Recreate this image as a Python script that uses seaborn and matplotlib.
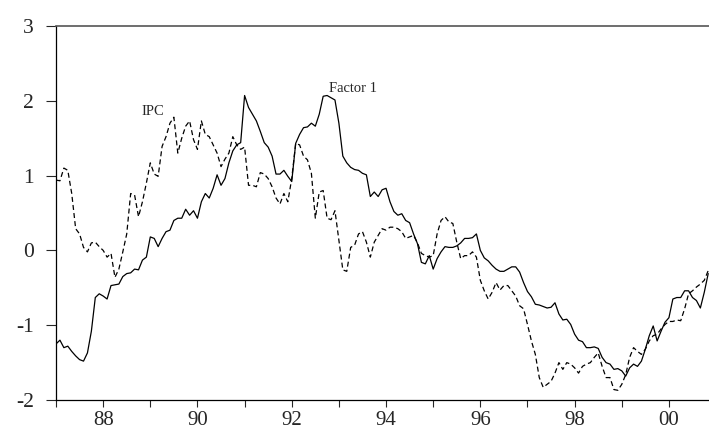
import numpy as np
import pandas as pd
import matplotlib
matplotlib.use("Agg")
import matplotlib.pyplot as plt
import seaborn as sns

# monthly observations, 1987:01 onwards
factor1 = [
    -1.25, -1.20, -1.30, -1.28, -1.35, -1.41, -1.46, -1.48, -1.37, -1.08, -0.63, -0.58,
    -0.61, -0.65, -0.47, -0.46, -0.45, -0.35, -0.31, -0.30, -0.25, -0.26, -0.13, -0.09,
    0.18, 0.16, 0.05, 0.16, 0.25, 0.27, 0.40, 0.43, 0.43, 0.55, 0.47, 0.53,
    0.43, 0.65, 0.76, 0.70, 0.83, 1.01, 0.87, 0.96, 1.17, 1.33, 1.41, 1.44,
    2.07, 1.91, 1.82, 1.73, 1.59, 1.44, 1.38, 1.26, 1.02, 1.02, 1.07, 0.99,
    0.92, 1.43, 1.55, 1.64, 1.65, 1.70, 1.66, 1.82, 2.06, 2.07, 2.04, 2.01,
    1.70, 1.26, 1.17, 1.11, 1.08, 1.07, 1.03, 1.01, 0.72, 0.78, 0.72, 0.81,
    0.83, 0.65, 0.52, 0.47, 0.49, 0.40, 0.37, 0.22, 0.09, -0.16, -0.18, -0.07,
    -0.25, -0.11, -0.02, 0.05, 0.04, 0.04, 0.06, 0.10, 0.16, 0.16, 0.17, 0.22,
    0.00, -0.10, -0.14, -0.20, -0.25, -0.28, -0.28, -0.25, -0.22, -0.22, -0.29, -0.43,
    -0.55, -0.62, -0.72, -0.73, -0.75, -0.77, -0.76, -0.70, -0.85, -0.93, -0.92, -0.99,
    -1.12, -1.20, -1.22, -1.30, -1.30, -1.29, -1.31, -1.43, -1.50, -1.52, -1.59, -1.58,
    -1.61, -1.68, -1.57, -1.52, -1.55, -1.48, -1.32, -1.14, -1.01, -1.21, -1.08, -0.96,
    -0.90, -0.65, -0.63, -0.63, -0.54, -0.54, -0.63, -0.67, -0.77, -0.56, -0.31,
]

ipc = [
    0.94, 0.93, 1.10, 1.07, 0.76, 0.29, 0.22, 0.04, -0.02, 0.10, 0.11, 0.05,
    0.00, -0.09, -0.04, -0.36, -0.25, -0.02, 0.22, 0.76, 0.74, 0.45, 0.65, 0.90,
    1.17, 1.02, 0.99, 1.39, 1.52, 1.70, 1.78, 1.30, 1.50, 1.66, 1.73, 1.48,
    1.35, 1.73, 1.55, 1.52, 1.41, 1.30, 1.12, 1.22, 1.30, 1.52, 1.41, 1.35,
    1.38, 0.87, 0.87, 0.85, 1.04, 1.02, 0.96, 0.85, 0.70, 0.62, 0.76, 0.65,
    0.96, 1.43, 1.41, 1.26, 1.21, 1.03, 0.43, 0.78, 0.80, 0.43, 0.41, 0.53,
    0.13, -0.26, -0.28, 0.04, 0.07, 0.22, 0.25, 0.11, -0.09, 0.11, 0.20, 0.29,
    0.27, 0.31, 0.31, 0.29, 0.25, 0.16, 0.18, 0.20, 0.10, -0.04, -0.07, -0.09,
    -0.07, 0.22, 0.40, 0.45, 0.38, 0.36, 0.11, -0.11, -0.07, -0.07, -0.02, -0.09,
    -0.40, -0.54, -0.65, -0.56, -0.43, -0.53, -0.47, -0.47, -0.54, -0.61, -0.74, -0.78,
    -0.99, -1.21, -1.39, -1.70, -1.83, -1.79, -1.75, -1.64, -1.50, -1.59, -1.50, -1.52,
    -1.57, -1.64, -1.55, -1.52, -1.50, -1.43, -1.37, -1.55, -1.70, -1.70, -1.86, -1.87,
    -1.79, -1.66, -1.43, -1.30, -1.35, -1.39, -1.32, -1.21, -1.14, -1.12, -1.05, -0.99,
    -0.95, -0.95, -0.93, -0.94, -0.78, -0.58, -0.54, -0.49, -0.45, -0.40, -0.27,
]

start_year = 1987
years = start_year + np.arange(len(factor1)) / 12.0

df = pd.DataFrame({"t": years, "Factor 1": factor1, "IPC": ipc})

sns.set_style("ticks")
plt.rcParams['font.family'] = ['Liberation Serif', 'DejaVu Serif']

fig = plt.figure(figsize=(7.09, 4.32), dpi=100)
ax = fig.add_axes([0.079, 0.074, 0.921, 0.866])

sns.lineplot(data=df, x="t", y="Factor 1", ax=ax, color="black", linewidth=0.9)
sns.lineplot(data=df, x="t", y="IPC", ax=ax, color="black", linewidth=0.9,
             linestyle=(0, (4, 2.5)))

ax.set_xlim(start_year, 2000.85)
ax.set_ylim(-2, 3)
ax.set_xlabel("")
ax.set_ylabel("")

even = list(range(1988, 2001, 2))
ax.set_xticks(even)
ax.set_xticklabels([f"{y % 100:02d}" for y in even])
ax.set_xticks(list(range(1987, 2001, 2)), minor=True)
ax.set_yticks([-2, -1, 0, 1, 2, 3])
ax.set_yticklabels(["-2", "-1", "0", "1", "2", "3"])

ax.tick_params(axis="x", which="both", direction="out", length=5, width=0.8,
               labelsize=15, pad=3)
ax.tick_params(axis="y", direction="out", length=7, width=0.8,
               labelsize=15.5, pad=9)

for side in ["left", "bottom"]:
    ax.spines[side].set_color("black")
    ax.spines[side].set_linewidth(0.9)
ax.spines["top"].set_color("#555555")
ax.spines["top"].set_linewidth(1.2)
ax.spines["right"].set_visible(False)

ax.text(1988.82, 1.85, "IPC", fontsize=10.5, ha="left", va="center")
ax.text(1992.8, 2.16, "Factor 1", fontsize=10.5, ha="left", va="center")

fig.savefig("out.png", dpi=100)
